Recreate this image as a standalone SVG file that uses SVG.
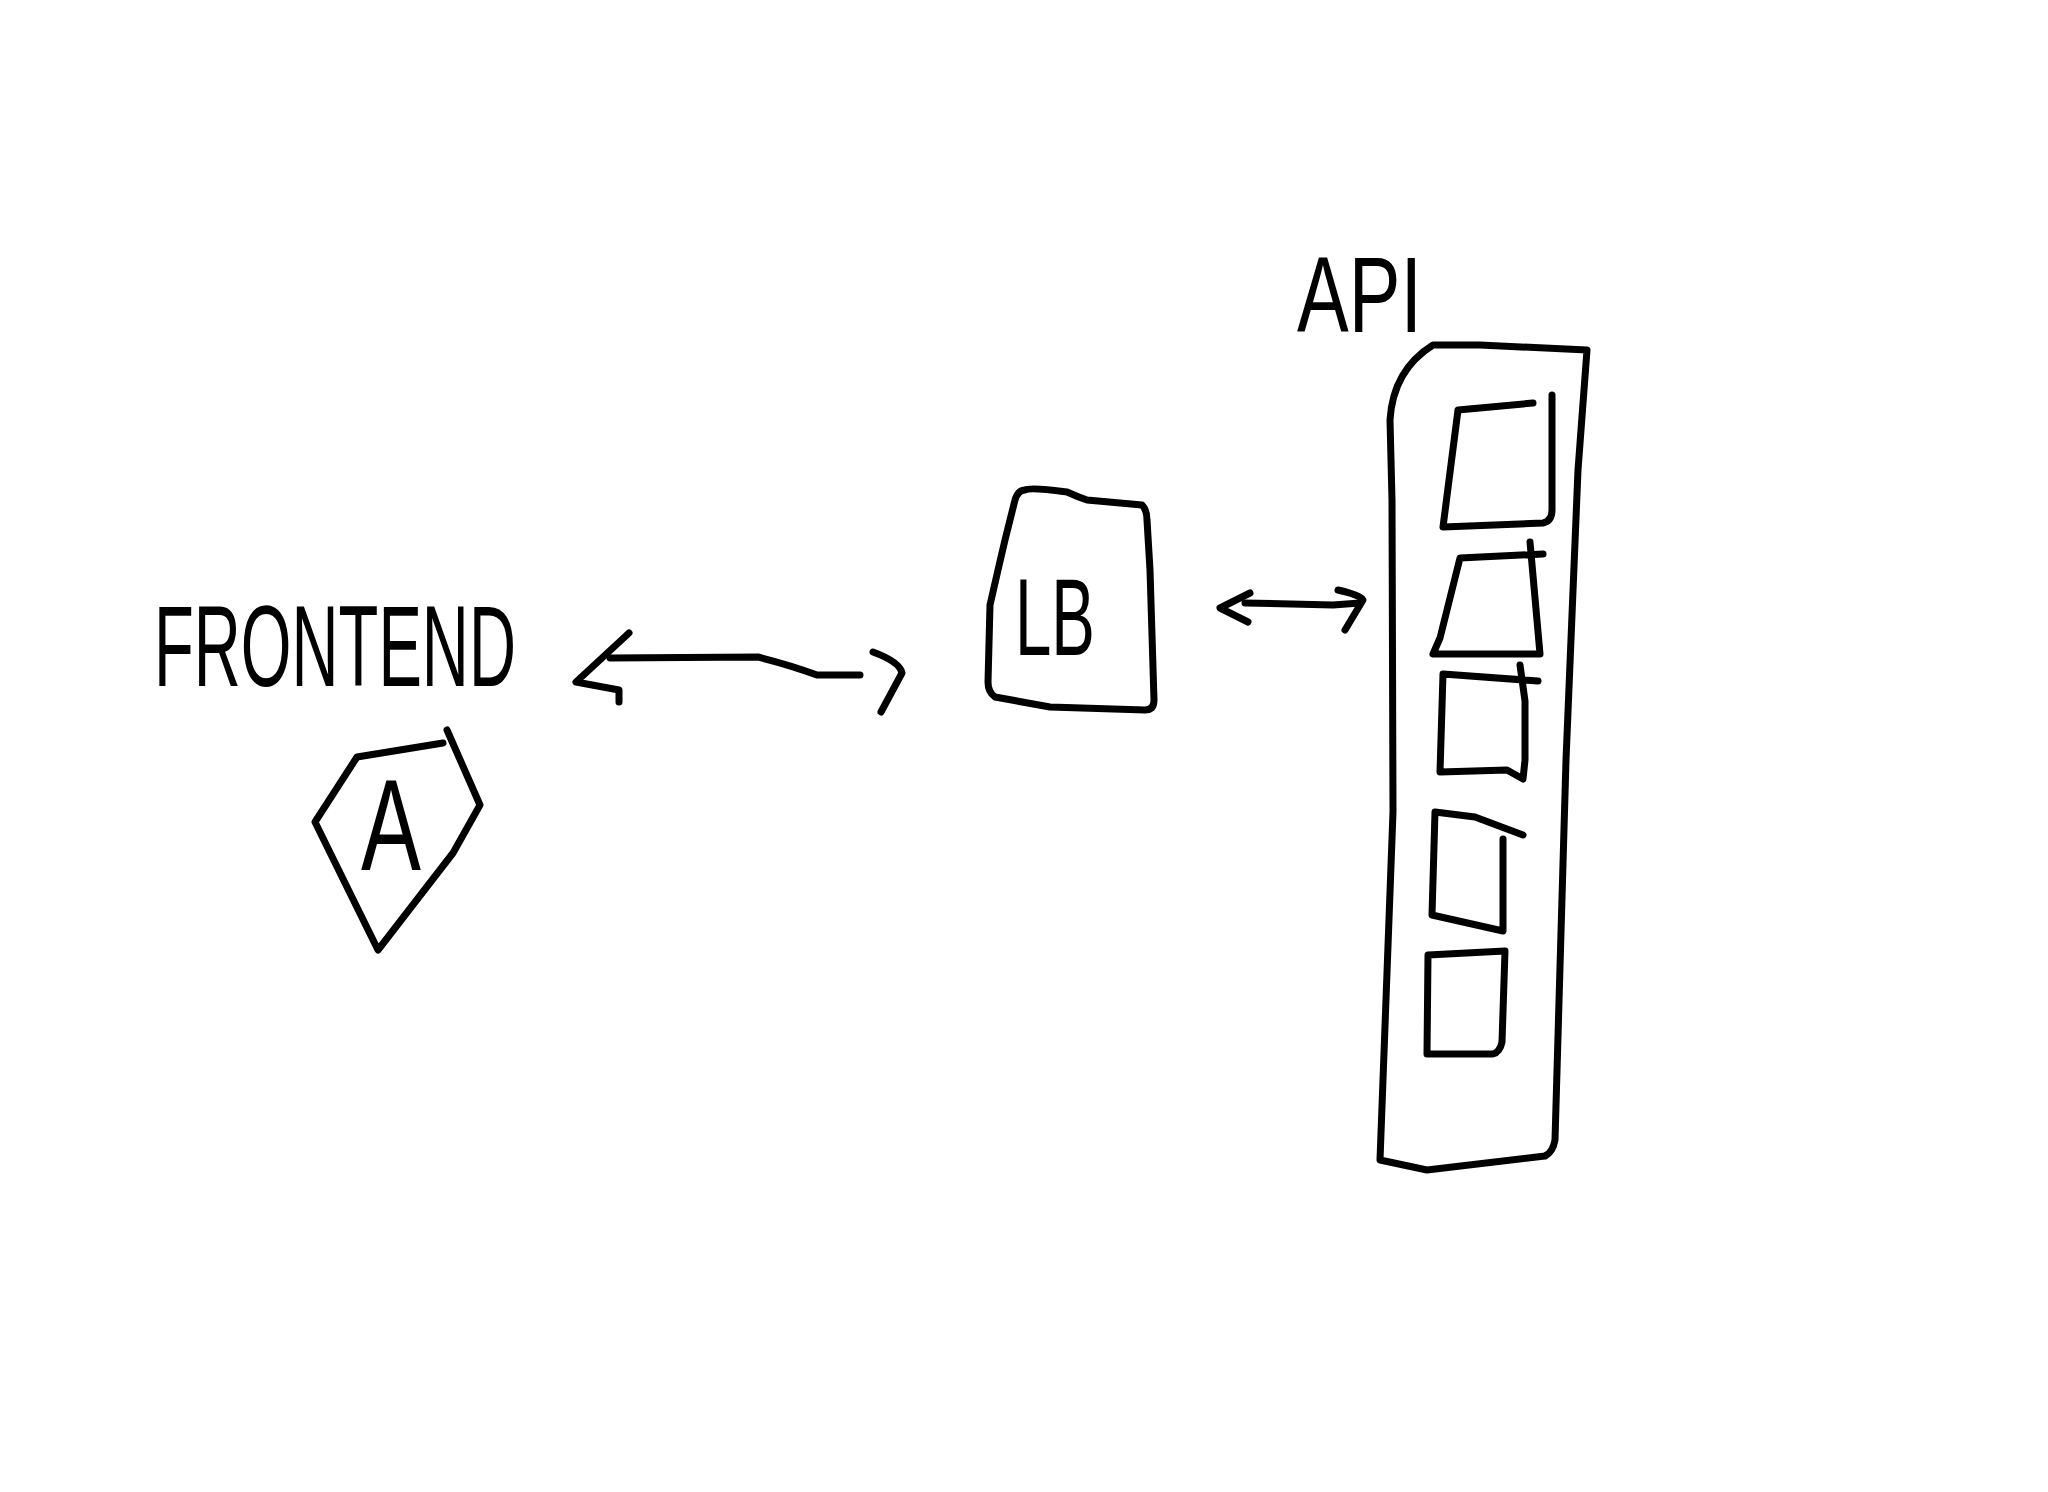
<svg xmlns="http://www.w3.org/2000/svg" width="2048" height="1492" viewBox="0 0 2048 1492">
<style>
.s{fill:none;stroke:#000;stroke-width:7;stroke-linecap:round;stroke-linejoin:round}
.t{font-family:"Liberation Sans",Arial,sans-serif;fill:#000}
</style>
<rect width="2048" height="1492" fill="#fff"/>
<g id="frontend">
<text class="t" x="154" y="686" font-size="115" textLength="362" lengthAdjust="spacingAndGlyphs">FRONTEND</text>
<path class="s" d="M443,743 L357,757 L315,822 L378,950 L453,853 L480,805 L447,730"/>
<text class="t" x="361" y="870" font-size="130" textLength="60" lengthAdjust="spacingAndGlyphs">A</text>
</g>
<g id="lb">
<path class="s" d="M1025,490 Q1030,487 1067,492 Q1078,497 1087,500 L1142,505 Q1147,510 1147,520 L1150,570 L1154,700 Q1154,710 1145,710 L1050,707 L995,697 Q988,692 988,682 L990,605 L998,570 L1005,540 L1015,500 Q1018,490 1025,490 Z"/>
<text class="t" x="1015" y="655" font-size="110" textLength="80" lengthAdjust="spacingAndGlyphs">LB</text>
</g>
<g id="api">
<text class="t" x="1297" y="332" font-size="108" textLength="125" lengthAdjust="spacingAndGlyphs">API</text>
<path class="s" d="M1380,1160 L1393,812 L1392,500 L1390,420 Q1393,370 1433,345 L1480,345 L1587,350 L1578,470 L1566,760 L1555,1140 Q1553,1152 1545,1156 L1427,1170 Z"/>
<path class="s" d="M1533,403 L1458,410 L1443,527 L1543,523 Q1552,521 1552,510 L1552,395"/>
<path class="s" d="M1543,554 L1460,558 L1440,638 L1433,654 L1540,654 L1530,542"/>
<path class="s" d="M1538,681 L1443,674 L1440,772 L1507,770 L1523,779 L1525,760 L1525,701 L1520,665"/>
<path class="s" d="M1523,835 L1475,817 L1435,812 L1432,915 L1503,931 L1503,839"/>
<path class="s" d="M1428,955 L1505,951 L1502,1042 Q1500,1052 1493,1054 L1427,1054 Z"/>
</g>
<g id="connectors">
<path class="s" d="M610,658 L758,657 Q790,665 817,675 L860,675"/>
<path class="s" d="M629,633 L576,682 L619,690 L619,702"/>
<path class="s" d="M873,652 Q900,662 902,673 L881,712"/>
<path class="s" d="M1245,603 L1333,605 L1360,603"/>
<path class="s" d="M1250,593 L1220,608 L1248,622"/>
<path class="s" d="M1338,590 Q1360,595 1363,600 L1345,630"/>
</g>
</svg>
